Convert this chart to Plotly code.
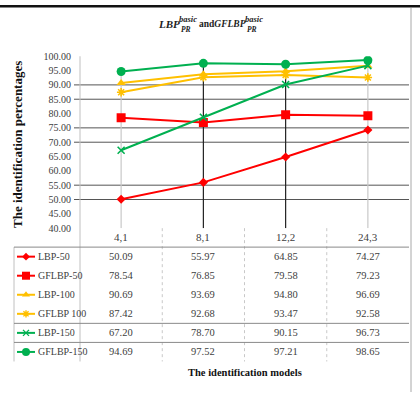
import plotly.graph_objects as go

categories = ["4,1", "8,1", "12,2", "24,3"]
series_names = ["LBP-50", "GFLBP-50", "LBP-100", "GFLBP 100", "LBP-150", "GFLBP-150"]
lbp_50 = [50.09, 55.97, 64.85, 74.27]
gflbp_50 = [78.54, 76.85, 79.58, 79.23]
lbp_100 = [90.69, 93.69, 94.80, 96.69]
gflbp_100 = [87.42, 92.68, 93.47, 92.58]
lbp_150 = [67.20, 78.70, 90.15, 96.73]
gflbp_150 = [94.69, 97.52, 97.21, 98.65]
y_ticks = [40, 45, 50, 55, 60, 65, 70, 75, 80, 85, 90, 95, 100]

series_values = [lbp_50, gflbp_50, lbp_100, gflbp_100, lbp_150, gflbp_150]
RED, GOLD, GREEN = "#FF0000", "#FFC000", "#00B050"
styles = [
    (RED, "diamond", 7),
    (RED, "square", 9),
    (GOLD, "triangle-up", 8),
    (GOLD, "asterisk-open", 7),
    (GREEN, "x-thin-open", 7),
    (GREEN, "circle", 9),
]

W, H = 420, 398
PX_L, PX_R, PX_T, PX_B = 80, 409, 52.7, 229.5
SERIF = "Liberation Serif, Times New Roman, serif"
NUM = "Liberation Serif, Times New Roman, serif"
TXT = "#404040"

fig = go.Figure()
for name, vals, (col, sym, size) in zip(series_names, series_values, styles):
    mline = dict(width=1.6, color=col) if "open" in sym else dict(width=0)
    fig.add_trace(go.Scatter(
        x=categories, y=vals, name=name, mode="lines+markers",
        line=dict(color=col, width=2),
        marker=dict(symbol=sym, size=size, color=col, line=mline),
        xaxis="x", yaxis="y", showlegend=False,
    ))

# table legend keys (overlay pixel axes)
row_top = 249.0
row_h = 19.6
for i, (name, (col, sym, size)) in enumerate(zip(series_names, styles)):
    yc = row_top + row_h * (i + 0.5)
    mline = dict(width=1.4, color=col) if "open" in sym else dict(width=0)
    fig.add_trace(go.Scatter(
        x=[17, 26, 35], y=[yc, yc, yc], mode="lines",
        line=dict(color=col, width=2), xaxis="x2", yaxis="y2",
        showlegend=False, hoverinfo="skip"))
    fig.add_trace(go.Scatter(
        x=[26], y=[yc], mode="markers",
        marker=dict(symbol=sym, size=size - 1, color=col, line=mline),
        xaxis="x2", yaxis="y2", showlegend=False, hoverinfo="skip"))

shapes = []
annotations = []

# visible gridlines (as in the reference)
for g in [90, 85, 75, 70, 55, 50]:
    shapes.append(dict(type="line", xref="x2", yref="y", x0=74, x1=PX_R, y0=g, y1=g,
                       line=dict(color="#555555", width=1), layer="below"))

# drop lines
drop_cols = ["#c8c8c8", "#222222", "#222222", "#c8c8c8"]
for j, c in enumerate(categories):
    top = max(v[j] for v in series_values)
    shapes.append(dict(type="line", xref="x", yref="y", x0=c, x1=c, y0=40, y1=top,
                       line=dict(color=drop_cols[j], width=1.2), layer="below"))

# axis line / table frame
shapes.append(dict(type="line", xref="x2", yref="y2", x0=80, x1=80, y0=PX_T, y1=366.6,
                   line=dict(color="#c0c0c0", width=1), layer="below"))
shapes.append(dict(type="line", xref="x2", yref="y2", x0=14, x1=14, y0=249, y1=366.6,
                   line=dict(color="#c0c0c0", width=1), layer="below"))
col_w = (PX_R - PX_L) / 4
for k in range(1, 4):
    xx = PX_L + col_w * k
    shapes.append(dict(type="line", xref="x2", yref="y2", x0=xx, x1=xx, y0=PX_B, y1=366.6,
                       line=dict(color="#c8c8c8", width=1, dash="dot"), layer="below"))
for yy in [249, row_top + 4 * row_h, row_top + 5 * row_h]:
    shapes.append(dict(type="line", xref="x2", yref="y2", x0=14, x1=PX_R, y0=yy, y1=yy,
                       line=dict(color="#8a8a8a", width=1), layer="below"))
# outer border bits
shapes.append(dict(type="line", xref="x2", yref="y2", x0=411, x1=411, y0=3, y1=398,
                   line=dict(color="#a8a8a8", width=1)))
shapes.append(dict(type="rect", xref="x2", yref="y2", x0=0, x1=420, y0=0, y1=2.5,
                   fillcolor="#111111", line=dict(width=0)))

# category labels
for c in categories:
    annotations.append(dict(x=c, xref="x", y=239, yref="y2", text=c, showarrow=False,
                            font=dict(family=NUM, size=11, color=TXT)))
# table rows
for i, (name, vals) in enumerate(zip(series_names, series_values)):
    yc = row_top + row_h * (i + 0.5)
    annotations.append(dict(x=36, xref="x2", y=yc, yref="y2", text=name, showarrow=False,
                            xanchor="left", font=dict(family=NUM, size=10, color=TXT)))
    for c, v in zip(categories, vals):
        annotations.append(dict(x=c, xref="x", y=yc, yref="y2", text=f"{v:.2f}",
                                showarrow=False, font=dict(family=NUM, size=10.5, color=TXT)))

# axis titles
annotations.append(dict(x=17, xref="x2", y=144, yref="y2", text="<b>The identification percentages</b>",
                        textangle=-90, showarrow=False, font=dict(family=SERIF, size=13, color="#111111")))
annotations.append(dict(x=245, xref="x2", y=378, yref="y2", text="<b>The identification models</b>",
                        showarrow=False, font=dict(family=SERIF, size=10.5, color="#111111")))

# title pieces
col_t = "#222222"
annotations += [
    dict(x=156, xref="x2", y=20, yref="y2", text="<b><i>LBP</i></b>", xanchor="left",
         showarrow=False, font=dict(family=SERIF, size=11, color=col_t)),
    dict(x=176.5, xref="x2", y=14.5, yref="y2", text="<b><i>basic</i></b>", xanchor="left",
         showarrow=False, font=dict(family=SERIF, size=8.5, color=col_t)),
    dict(x=178.5, xref="x2", y=25.5, yref="y2", text="<b><i>PR</i></b>", xanchor="left",
         showarrow=False, font=dict(family=SERIF, size=7.5, color=col_t)),
    dict(x=197, xref="x2", y=20, yref="y2", text="<b>and<i>GFLBP</i></b>", xanchor="left",
         showarrow=False, font=dict(family=SERIF, size=9.5, color=col_t)),
    dict(x=242.5, xref="x2", y=14.5, yref="y2", text="<b><i>basic</i></b>", xanchor="left",
         showarrow=False, font=dict(family=SERIF, size=8.5, color=col_t)),
    dict(x=244.5, xref="x2", y=25.5, yref="y2", text="<b><i>PR</i></b>", xanchor="left",
         showarrow=False, font=dict(family=SERIF, size=7.5, color=col_t)),
]

fig.update_layout(
    width=W, height=H, autosize=False,
    margin=dict(l=0, r=0, t=0, b=0, pad=0),
    paper_bgcolor="white", plot_bgcolor="rgba(0,0,0,0)",
    xaxis=dict(domain=[PX_L / W, PX_R / W], type="category", range=[-0.5, 3.5],
               showticklabels=False, showgrid=False, zeroline=False, showline=False,
               anchor="y", fixedrange=True),
    yaxis=dict(domain=[(H - PX_B) / H, (H - PX_T) / H], range=[40, 100],
               tickvals=y_ticks, ticktext=[f"{t:.2f}" for t in y_ticks],
               tickfont=dict(family=NUM, size=10, color=TXT), ticklabelstandoff=8,
               showgrid=False, zeroline=False, showline=False, anchor="x", fixedrange=True),
    xaxis2=dict(domain=[0, 1], range=[0, W], visible=False, anchor="y2", fixedrange=True),
    yaxis2=dict(domain=[0, 1], range=[H, 0], visible=False, anchor="x2", fixedrange=True),
    shapes=shapes, annotations=annotations,
)

fig.write_html("out.html")
